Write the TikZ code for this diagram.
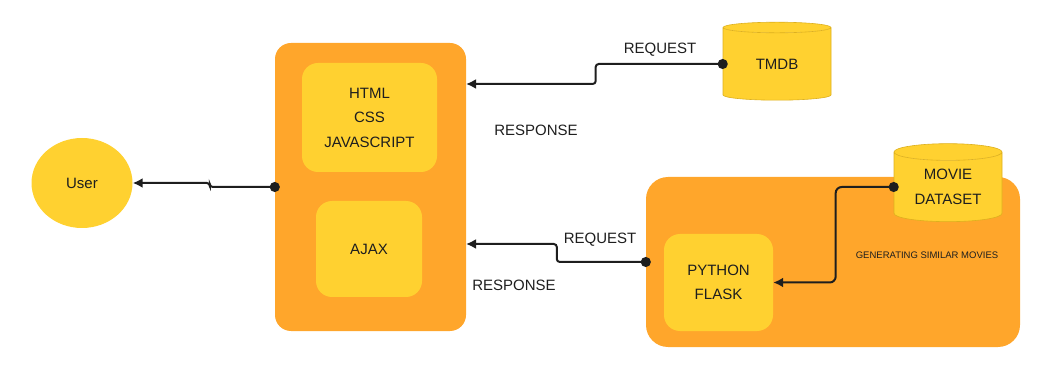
\documentclass[tikz,border=0pt]{standalone}
\usepackage{fontspec}
\setmainfont{Liberation Sans}
\usetikzlibrary{arrows.meta,shapes.geometric}
\definecolor{boxorange}{HTML}{FFA62B}
\definecolor{boxyellow}{HTML}{FFD130}
\definecolor{dbedge}{HTML}{DDB01E}
\definecolor{ink}{HTML}{1E1E1E}

\begin{document}
\begin{tikzpicture}[x=1pt,y=-1pt,
  font=\fontsize{15}{24.5}\selectfont, text=ink,
  panel/.style={fill=boxorange, rounded corners=16pt},
  card/.style={fill=boxyellow, rounded corners=16pt, align=center},
  db/.style={cylinder, shape border rotate=90, aspect=0.25, draw=dbedge,
    line width=0.6pt, cylinder uses custom fill,
    cylinder body fill=boxyellow, cylinder end fill=boxyellow,
    minimum width=108, minimum height=78, inner sep=0pt, align=center},
  link/.style={draw=ink, line width=2pt, rounded corners=3pt, shorten <=-5pt,
    {Circle[length=10pt]}-{Latex[length=10pt,width=10pt]}}]
\useasboundingbox (0,0) rectangle (1060,371);

% user and the front end
\node[ellipse, fill=boxyellow, minimum width=101, minimum height=90] (user) at (82,183) {User};
\node[panel, minimum width=191, minimum height=288] (front) at (370.5,187) {};
\node[card, minimum width=135, minimum height=109] (html) at (369.5,117.5) {HTML\\CSS\\JAVASCRIPT};
\node[card, minimum width=106, minimum height=96] (ajax) at (369,249) {AJAX};

% back end
\node[panel, rounded corners=22pt, minimum width=374, minimum height=170] (ml) at (833,262) {};
\node[card, minimum width=109, minimum height=97] (flask) at (718.5,282.5) {PYTHON\\FLASK};
\node[db] (tmdb) at (777,64) {TMDB};
\node[db] (dataset) at (948,187) {MOVIE\\DATASET};
\node[font=\fontsize{9.5}{11}\selectfont] (similar) at (927,255) {GENERATING SIMILAR MOVIES};

\coordinate (tmdbin) at (466,84);
\coordinate (ajaxin) at (466,244);

\draw[link] (front.west) -- ++(-65,0) -- ++(0,-4) -- (user.east);
\draw[link] (tmdb.west) -- ++(-127,0) -- ++(0,20) -- (tmdbin);
\draw[link] (ml.west) -- ++(-89,0) -- ++(0,-18) -- (ajaxin);
\draw[link, rounded corners=6pt] (dataset.west) -- ++(-58,0) |- (flask.east);

\node (req1) at (660,50) {REQUEST};
\node (resp1) at (536,130) {RESPONSE};
\node (req2) at (600,240) {REQUEST};
\node (resp2) at (514,285) {RESPONSE};
\end{tikzpicture}
\end{document}
